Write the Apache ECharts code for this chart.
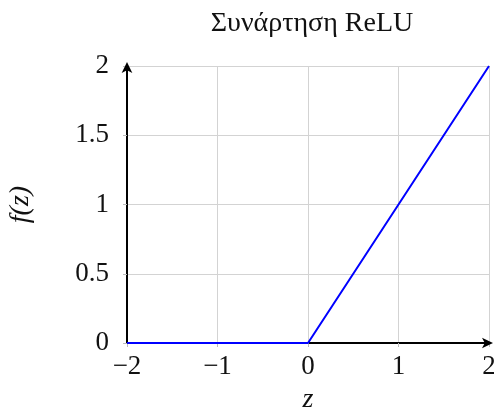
<!DOCTYPE html>
<html>
<head>
<meta charset="utf-8">
<script src="https://cdn.jsdelivr.net/npm/echarts@6/dist/echarts.min.js"></script>
<style>html,body{margin:0;padding:0;background:#fff}#c{width:494px;height:414px}</style>
</head>
<body>
<div id="c"></div>
<script>
var zValues = [-2, 0, 2];
var reluValues = [0, 0, 2];
var xTicks = [-2, -1, 0, 1, 2];
var yTicks = [0, 0.5, 1, 1.5, 2];
var titleText = 'Συνάρτηση ReLU';
var xName = 'z';
var yName = 'f(z)';

var FONT = '"Liberation Serif", "DejaVu Serif", serif';
var chart = echarts.init(document.getElementById('c'), null, {renderer: 'canvas'});
var pts = zValues.map(function (z, i) { return [z, reluValues[i]]; });
function fmt(v) { return v < 0 ? '\u2212' + Math.abs(v) : String(v); }

chart.setOption({
  animation: false,
  backgroundColor: '#fff',
  title: {
    text: titleText, left: 307, top: 5, textAlign: 'center',
    textStyle: {fontFamily: FONT, fontSize: 28, fontWeight: 'normal', color: '#111'}
  },
  grid: {left: 127, right: 5, top: 66, bottom: 71, containLabel: false, outerBoundsMode: 'none'},
  xAxis: {
    type: 'value', min: xTicks[0], max: xTicks[xTicks.length - 1], interval: 1,
    name: xName, nameLocation: 'middle', nameGap: 43,
    nameTextStyle: {fontFamily: FONT, fontSize: 28, fontStyle: 'italic', color: '#111'},
    axisLine: {show: true, onZero: false, symbol: ['none', 'arrow'], symbolSize: [8, 11], symbolOffset: [0, 4],
      lineStyle: {color: '#000', width: 2}},
    axisTick: {show: true, length: 4, lineStyle: {color: '#bbb'}},
    axisLabel: {fontFamily: FONT, fontSize: 27, color: '#111', margin: 10, formatter: fmt},
    splitLine: {show: true, lineStyle: {color: '#d3d3d3', width: 1}}
  },
  yAxis: {
    type: 'value', min: yTicks[0], max: yTicks[yTicks.length - 1], interval: 0.5,
    name: yName, nameLocation: 'middle', nameGap: 92, nameRotate: 90,
    nameTextStyle: {fontFamily: FONT, fontSize: 28, fontStyle: 'italic', color: '#111'},
    axisLine: {show: true, onZero: false, symbol: ['none', 'arrow'], symbolSize: [8, 11], symbolOffset: [0, 4],
      lineStyle: {color: '#000', width: 2}},
    axisTick: {show: true, length: 4, lineStyle: {color: '#bbb'}},
    axisLabel: {fontFamily: FONT, fontSize: 27, color: '#111', margin: 18},
    splitLine: {show: true, lineStyle: {color: '#d3d3d3', width: 1}}
  },
  series: [{
    type: 'line', data: pts, showSymbol: false, symbol: 'none',
    lineStyle: {color: '#0000ff', width: 2}, z: 5
  }]
});
</script>
</body>
</html>
